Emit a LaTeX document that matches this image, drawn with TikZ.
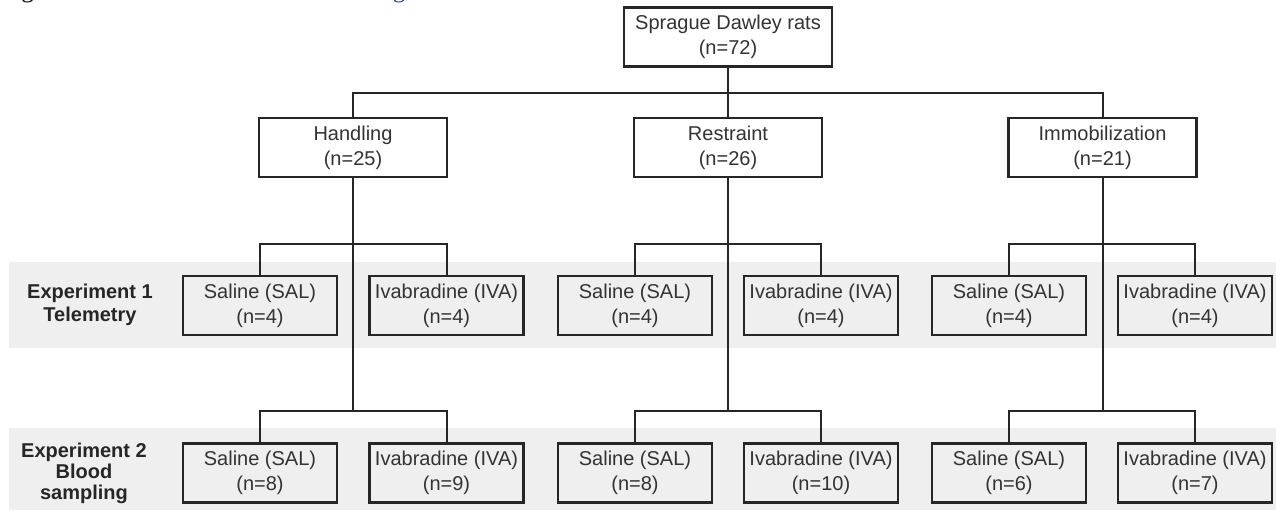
\documentclass[tikz,border=0pt]{standalone}
\usepackage{fontspec}
\setmainfont{Liberation Sans}
\newfontfamily\figserif{Liberation Serif}
\definecolor{band}{HTML}{EFEFEF}
\definecolor{ln}{HTML}{262626}
\definecolor{txt}{HTML}{333333}
\definecolor{linkblue}{HTML}{2E3FA6}
\begin{document}
\begin{tikzpicture}[x=0.5pt,y=-0.5pt,
  every node/.style={font=\fontsize{10}{12.5}\selectfont, text=txt, align=center, inner sep=0pt},
  box/.style={draw=ln, line width=1.3pt, minimum height=29.5pt},
  topbox/.style={box, fill=white, minimum width=104pt},
  midbox/.style={box, fill=white, minimum width=94pt},
  subbox/.style={box, minimum width=77pt},
  conn/.style={draw=ln, line width=1pt},
  explabel/.style={font=\bfseries\fontsize{10}{11.5}\selectfont, text=ln},
  captext/.style={font=\figserif\fontsize{12.6}{14}\selectfont, align=none, anchor=base west},
  bandfill/.style={fill=band}]
\useasboundingbox (0,0) rectangle (1276,510);
% bands
\fill[bandfill] (9,262) rectangle (1276,348);
\fill[bandfill] (9,428) rectangle (1276,510);
% clipped caption line at top
\node[captext, text=black] (fig) at (0,-3) {Fig. 1};
\node[captext, text=linkblue] (dl) at (95,-3) {Download full resolution image};
\draw[linkblue, line width=0.7pt] (dl.base west) ++(0,2.5) -- ++(322,0);
% top
\node[topbox] (top) at (728,37) {Sprague Dawley rats\\(n=72)};
% level 2
\node[midbox] (g1) at (353,147.5) {Handling\\(n=25)};
\node[midbox] (g2) at (728,147.5) {Restraint\\(n=26)};
\node[midbox] (g3) at (1102.5,147.5) {Immobilization\\(n=21)};
% labels
\node[explabel] (e1) at (90,305) {Experiment 1\\Telemetry};
\node[explabel, font=\bfseries\fontsize{10}{10.5}\selectfont] (e2) at (84,473) {Experiment 2\\Blood\\sampling};
% experiment 1
\node[subbox] (sa1) at (260,305.5) {Saline (SAL)\\(n=4)};
\node[subbox] (va1) at (446.5,305.5) {Ivabradine (IVA)\\(n=4)};
\node[subbox] (sa2) at (635,305.5) {Saline (SAL)\\(n=4)};
\node[subbox] (va2) at (821,305.5) {Ivabradine (IVA)\\(n=4)};
\node[subbox] (sa3) at (1009,305.5) {Saline (SAL)\\(n=4)};
\node[subbox] (va3) at (1195,305.5) {Ivabradine (IVA)\\(n=4)};
% experiment 2
\node[subbox] (sb1) at (260,473) {Saline (SAL)\\(n=8)};
\node[subbox] (vb1) at (446.5,473) {Ivabradine (IVA)\\(n=9)};
\node[subbox] (sb2) at (635,473) {Saline (SAL)\\(n=8)};
\node[subbox] (vb2) at (821,473) {Ivabradine (IVA)\\(n=10)};
\node[subbox] (sb3) at (1009,473) {Saline (SAL)\\(n=6)};
\node[subbox] (vb3) at (1195,473) {Ivabradine (IVA)\\(n=7)};
% connectors
\coordinate (bus) at (728,93);
\coordinate (fy1) at (0,244);
\coordinate (fy2) at (0,411);
\draw[conn] (top.south) -- (bus);
\draw[conn] (g1.north) |- (bus) -| (g3.north);
\draw[conn] (g2.north) -- (g2.north |- bus);
\foreach \i in {1,2,3}{
  \draw[conn] (g\i.south) -- (g\i.south |- fy2);
  \draw[conn] (sa\i.north) -- (sa\i.north |- fy1) -| (va\i.north);
  \draw[conn] (sb\i.north) -- (sb\i.north |- fy2) -| (vb\i.north);
}
\end{tikzpicture}
\end{document}
